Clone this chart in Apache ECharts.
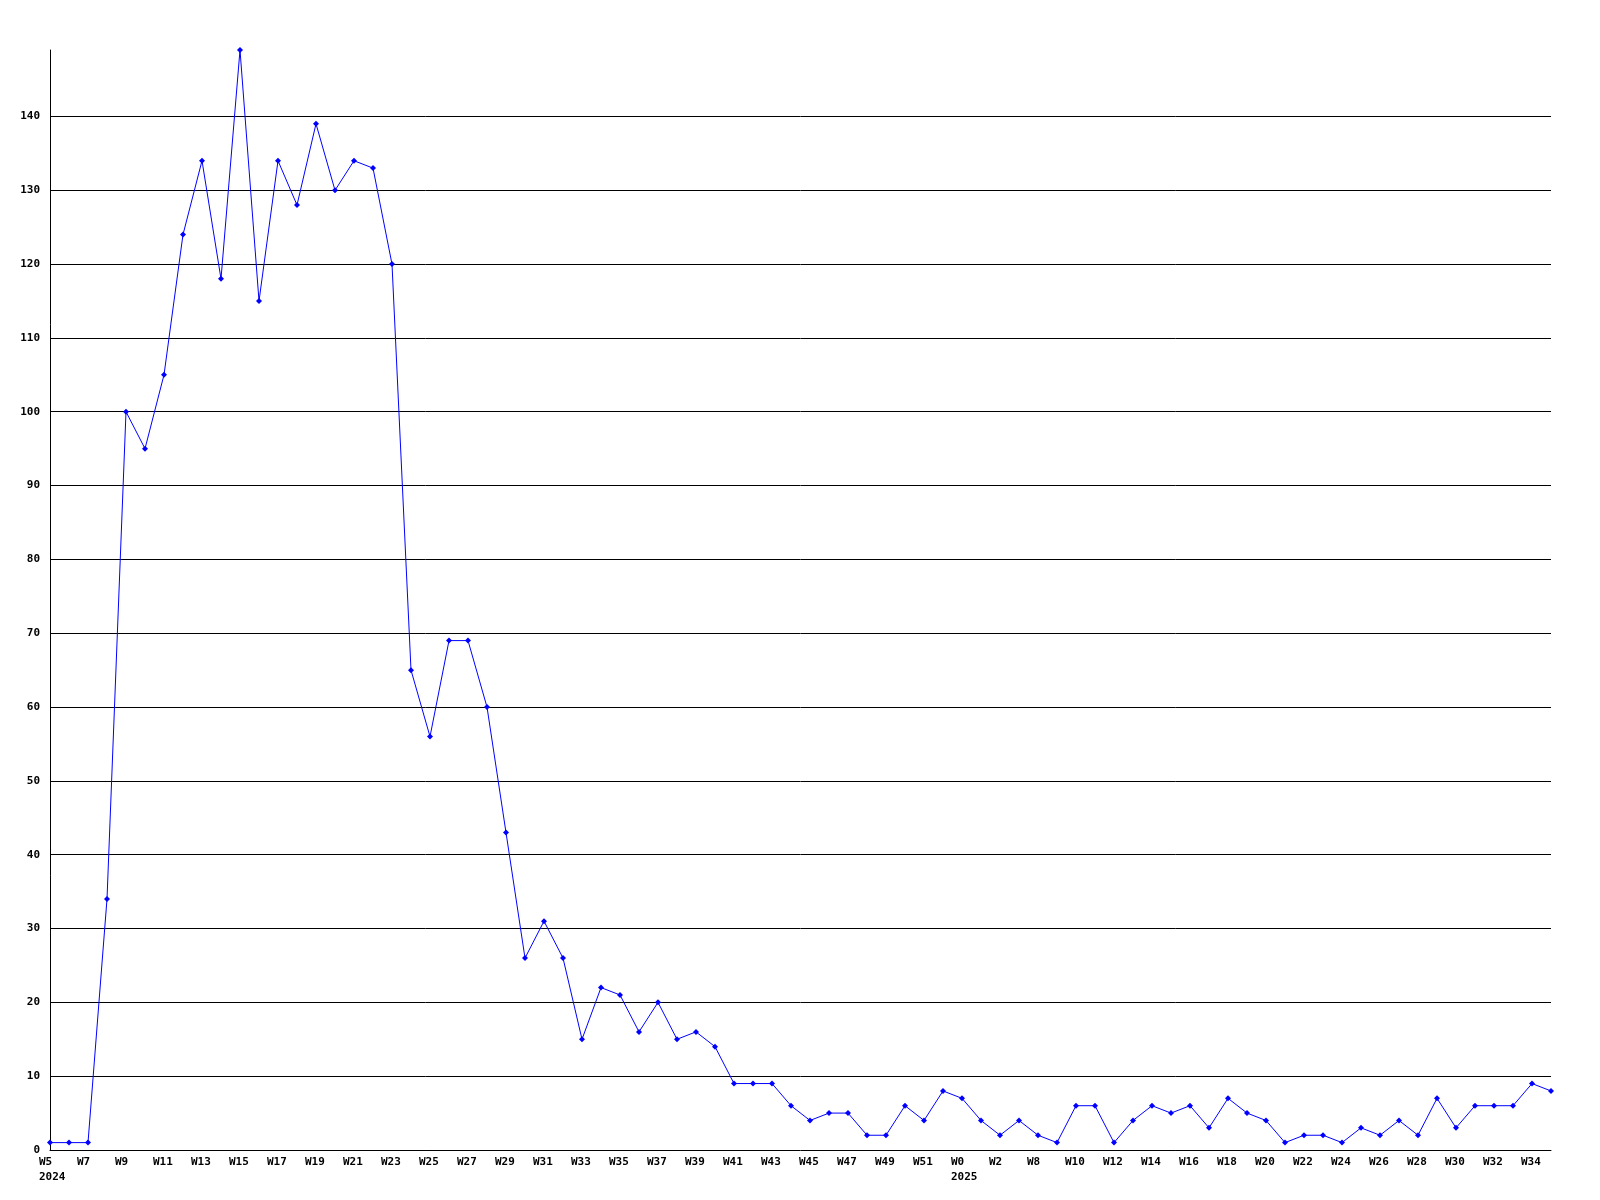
<!DOCTYPE html>
<html>
<head>
<meta charset="utf-8">
<script src="https://cdn.jsdelivr.net/npm/echarts@6/dist/echarts.min.js"></script>
<style>
html,body{margin:0;padding:0;background:#fff;}
#chart{width:1600px;height:1200px;}
</style>
</head>
<body>
<div id="chart"></div>
<script>
// Week labels (as printed on the original axis)
const weeks = [
  'W5','W6','W7','W8','W9','W10','W11','W12','W13','W14','W15','W16','W17','W18','W19','W20',
  'W21','W22','W23','W24','W25','W26','W27','W28','W29','W30','W31','W32','W33','W34','W35','W36',
  'W37','W38','W39','W40','W41','W42','W43','W44','W45','W46','W47','W48','W49','W50','W51','W52',
  'W0','W1','W2','W7','W8','W9','W10','W11','W12','W13','W14','W15','W16','W17','W18','W19',
  'W20','W21','W22','W23','W24','W25','W26','W27','W28','W29','W30','W31','W32','W33','W34','W35'
];
// Year shown under the first week of each year
const yearStartIndex = [0, 48];
const yearLabels = ['2024', '2025'];

// Weekly counts
const counts = [
  1, 1, 1, 34, 100, 95, 105, 124, 134, 118, 149, 115, 134, 128, 139, 130,
  134, 133, 120, 65, 56, 69, 69, 60, 43, 26, 31, 26, 15, 22, 21, 16,
  20, 15, 16, 14, 9, 9, 9, 6, 4, 5, 5, 2, 2, 6, 4, 8,
  7, 4, 2, 4, 2, 1, 6, 6, 1, 4, 6, 5, 6, 3, 7, 5,
  4, 1, 2, 2, 1, 3, 2, 4, 2, 7, 3, 6, 6, 6, 9, 8
];

const yTicks = [0, 10, 20, 30, 40, 50, 60, 70, 80, 90, 100, 110, 120, 130, 140];

const chart = echarts.init(document.getElementById('chart'), null, {renderer: 'canvas'});
const font = '"DejaVu Sans Mono", "Liberation Mono", monospace';
const yMax = Math.max.apply(null, counts);

chart.setOption({
  backgroundColor: '#ffffff',
  animation: false,
  grid: {left: 50, right: 49, top: 50, bottom: 50, containLabel: false, outerBoundsMode: 'none'},
  xAxis: {
    type: 'category',
    data: weeks,
    boundaryGap: false,
    axisLine: {show: true, lineStyle: {color: '#000', width: 1}},
    axisTick: {show: false},
    splitLine: {show: false},
    axisLabel: {
      interval: 1,
      margin: 5,
      align: 'left',
      padding: [0, 0, 0, -11],
      color: '#000',
      fontFamily: font,
      fontWeight: 'bold',
      fontSize: 11,
      lineHeight: 15,
      formatter: function (val, idx) {
        const k = yearStartIndex.indexOf(idx);
        return k >= 0 ? val + '\n' + yearLabels[k] : val;
      }
    }
  },
  yAxis: {
    type: 'value',
    min: 0,
    max: yMax,
    interval: 10,
    axisLine: {show: true, lineStyle: {color: '#000', width: 1}},
    axisTick: {show: false},
    splitLine: {show: true, showMinLine: false, showMaxLine: false, lineStyle: {color: '#000', width: 1}},
    axisLabel: {
      margin: 10,
      color: '#000',
      fontFamily: font,
      fontWeight: 'bold',
      fontSize: 11,
      showMaxLabel: false,
      formatter: function (v) { return yTicks.indexOf(v) >= 0 ? String(v) : ''; }
    }
  },
  series: [{
    type: 'line',
    data: counts,
    symbol: 'diamond',
    symbolSize: 6,
    showAllSymbol: true,
    lineStyle: {color: '#0000ff', width: 1},
    itemStyle: {color: '#0000ff'},
    emphasis: {disabled: true}
  }]
});
</script>
</body>
</html>
